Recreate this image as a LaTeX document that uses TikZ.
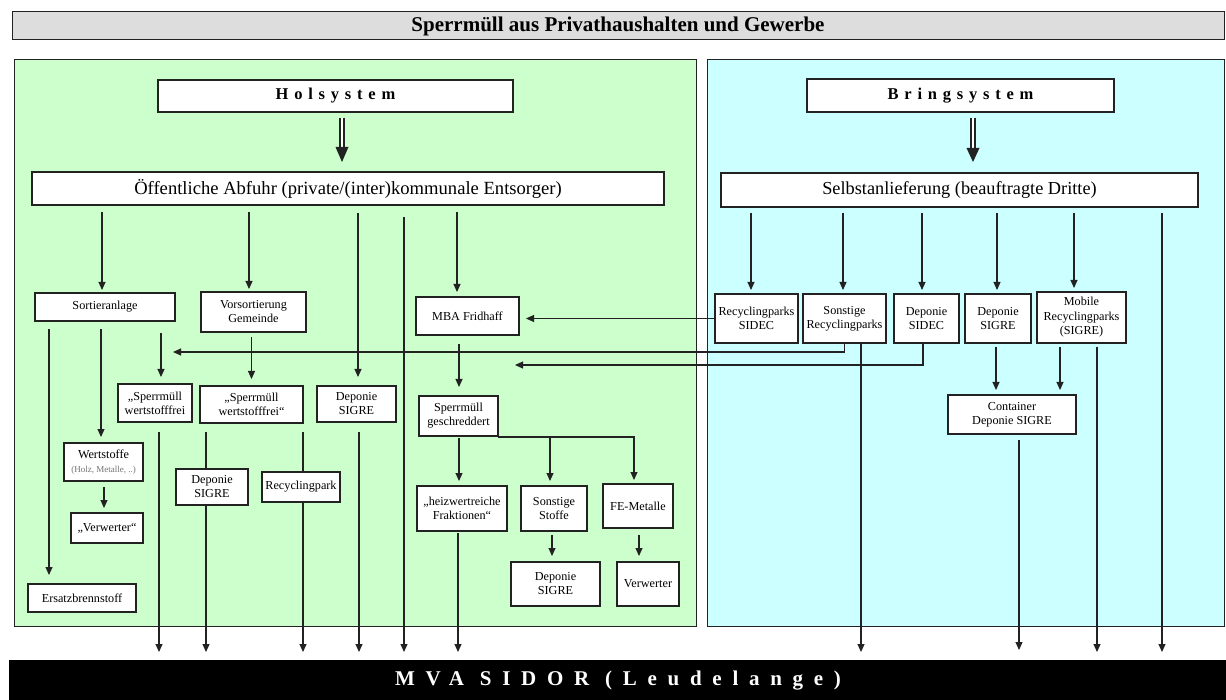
\documentclass[tikz,border=0pt]{standalone}
\usepackage{fontspec}
\setmainfont{Liberation Serif}
\newfontfamily\spacedfont[LetterSpace=35]{Liberation Serif}
\newfontfamily\mvafont[LetterSpace=51]{Liberation Serif}
\usetikzlibrary{arrows.meta,calc}
\definecolor{grn}{HTML}{CCFFCC}
\definecolor{cyn}{HTML}{CCFFFF}
\definecolor{ttl}{HTML}{DDDDDD}
\definecolor{bd}{HTML}{222222}
% #1 extra style, #2 name, #3 x1, #4 y1, #5 x2, #6 y2, #7 text
\newcommand\mybox[7][]{\node[box,#1,minimum width={#5pt-#3pt},minimum height={#6pt-#4pt}] (#2) at ({(#3+#5)/2},{(#4+#6)/2}) {#7};}
\begin{document}
\begin{tikzpicture}[x=1pt,y=-1pt,
  box/.style={draw=bd, line width=1.2pt, fill=white, inner sep=0pt, outer sep=0pt, align=center, font=\fontsize{12.2}{14}\selectfont},
  panel/.style={draw=bd, line width=1pt},
  arr/.style={draw=bd, line width=1.05pt, -{Triangle[length=8pt,width=7pt]}},
  ln/.style={draw=bd, line width=1.05pt},
  dbl/.style={draw=bd, line width=1.3pt, double distance=2.8pt},
  head/.style={fill=bd}]
\useasboundingbox (0,0) rectangle (1226,700);
% title and panels
\mybox[fill=ttl, panel, font=\bfseries\fontsize{21}{24}\selectfont]{title}{12}{12}{1224}{40}{Sperrmüll aus Privathaushalten und Gewerbe}
\mybox[fill=grn, panel]{holpanel}{14}{60}{696}{626}{}
\mybox[fill=cyn, panel]{bringpanel}{707}{60}{1224}{626}{}
\mybox[fill=black, draw=black, text=white, font=\mvafont\bfseries\fontsize{21}{24}\selectfont]{mva}{10}{661}{1226}{700}{MVA SIDOR (Leudelange)}
% Holsystem side
\mybox[font=\spacedfont\bfseries\fontsize{16.5}{20}\selectfont]{hol}{158}{80}{513}{112}{Holsystem}
\mybox[font=\fontsize{18.6}{22}\selectfont]{oeff}{32}{172}{664}{205}{Öffentliche Abfuhr (private/(inter)kommunale Entsorger)}
\mybox{sort}{35}{293}{175}{321}{Sortieranlage}
\mybox{vors}{201}{292}{306}{332}{Vorsortierung\\Gemeinde}
\mybox{mba}{416}{297}{519}{335}{MBA Fridhaff}
\mybox{sw1}{118}{384}{192}{422}{„Sperrmüll\\wertstofffrei}
\mybox{sw2}{200}{386}{303}{423}{„Sperrmüll\\wertstofffrei“}
\mybox{dep1}{317}{386}{396}{422}{Deponie\\SIGRE}
\mybox{wert}{64}{443}{143}{481}{Wertstoffe\\{\fontsize{9}{10}\selectfont\color{black!55}(Holz, Metalle, ..)}}
\mybox{verw1}{71}{513}{143}{543}{„Verwerter“}
\mybox{dep2}{176}{469}{248}{505}{Deponie\\SIGRE}
\mybox{reco}{262}{472}{340}{502}{Recyclingpark}
\mybox{gesch}{419}{396}{498}{436}{Sperrmüll\\geschreddert}
\mybox{heiz}{417}{486}{507}{531}{„heizwertreiche\\Fraktionen“}
\mybox{sonst}{521}{486}{587}{531}{Sonstige\\Stoffe}
\mybox{fe}{603}{484}{673}{528}{FE-Metalle}
\mybox{dep3}{511}{562}{600}{606}{Deponie\\SIGRE}
\mybox{verw2}{617}{562}{679}{606}{Verwerter}
\mybox{ersatz}{28}{584}{136}{612}{Ersatzbrennstoff}
% Bringsystem side
\mybox[font=\spacedfont\bfseries\fontsize{16.5}{20}\selectfont]{bring}{807}{79}{1114}{112}{Bringsystem}
\mybox[font=\fontsize{18.3}{22}\selectfont]{selbst}{721}{173}{1198}{207}{Selbstanlieferung (beauftragte Dritte)}
\mybox{rpsidec}{715}{294}{798}{343}{Recyclingparks\\SIDEC}
\mybox{srp}{803}{294}{886}{343}{Sonstige\\Recyclingparks}
\mybox{dsidec}{894}{294}{959}{343}{Deponie\\SIDEC}
\mybox{dsigre}{965}{294}{1031}{343}{Deponie\\SIGRE}
\mybox[font=\fontsize{12.2}{14.5}\selectfont]{mobile}{1037}{292}{1126}{343}{Mobile\\Recyclingparks\\(SIGRE)}
\mybox{cont}{948}{395}{1076}{434}{Container\\Deponie SIGRE}
\coordinate (t1) at (173,352);
\coordinate (t2) at (515,365);
% double arrows
\draw[dbl] ([xshift=6.5pt,yshift=-6pt]hol.south) -- ([xshift=-6pt,yshift=24pt]oeff.north);
\fill[head] ([xshift=-12.5pt,yshift=25pt]oeff.north) -- ([xshift=0.5pt,yshift=25pt]oeff.north) -- ([xshift=-6pt,yshift=10pt]oeff.north) -- cycle;
\draw[dbl] ([xshift=12.5pt,yshift=-6pt]bring.south) -- ([xshift=13.5pt,yshift=24pt]selbst.north);
\fill[head] ([xshift=7pt,yshift=25pt]selbst.north) -- ([xshift=20pt,yshift=25pt]selbst.north) -- ([xshift=13.5pt,yshift=11pt]selbst.north) -- cycle;
% Holsystem connectors
\draw[arr, shorten <=7pt, shorten >=3pt] ([xshift=-3pt]sort.north |- oeff.south) -- ([xshift=-3pt]sort.north);
\draw[arr, shorten <=7pt, shorten >=3pt] ([xshift=-4.5pt]vors.north |- oeff.south) -- ([xshift=-4.5pt]vors.north);
\draw[arr, shorten <=8pt, shorten >=9pt] ([xshift=1.5pt]dep1.north |- oeff.south) -- ([xshift=1.5pt]dep1.north);
\draw[arr, shorten <=12pt, shorten >=9pt] ([xshift=56pt]oeff.south) -- ([xshift=56pt]oeff.south |- mva.north);
\draw[arr, shorten <=7pt, shorten >=5pt] ([xshift=-10.5pt]mba.north |- oeff.south) -- ([xshift=-10.5pt]mba.north);
\draw[arr, shorten <=8pt, shorten >=9pt] ([xshift=-56pt]sort.south) -- ([xshift=-56pt]sort.south |- ersatz.north);
\draw[arr, shorten <=8pt, shorten >=6pt] ([xshift=-2.5pt]wert.north |- sort.south) -- ([xshift=-2.5pt]wert.north);
\draw[arr, shorten <=12pt, shorten >=7pt] ([xshift=6pt]sw1.north |- sort.south) -- ([xshift=6pt]sw1.north);
\draw[arr] (srp.south) |- (t1);
\draw[arr, shorten <=5pt, shorten >=7pt] (sw2.north |- vors.south) -- (sw2.north);
\draw[arr, shorten <=10pt, shorten >=9pt] ([xshift=4pt]sw1.south) -- ([xshift=4pt]sw1.south |- mva.north);
\draw[ln, shorten <=9pt] ([xshift=-6pt]dep2.north |- sw2.south) -- ([xshift=-6pt]dep2.north);
\draw[arr, shorten >=9pt] ([xshift=-6pt]dep2.south) -- ([xshift=-6pt]dep2.south |- mva.north);
\draw[ln, shorten <=9pt] ([xshift=2pt]reco.north |- sw2.south) -- ([xshift=2pt]reco.north);
\draw[arr, shorten >=9pt] ([xshift=2pt]reco.south) -- ([xshift=2pt]reco.south |- mva.north);
\draw[arr, shorten <=10pt, shorten >=9pt] ([xshift=2.5pt]dep1.south) -- ([xshift=2.5pt]dep1.south |- mva.north);
\draw[arr, shorten <=6pt, shorten >=5pt] ([xshift=-3pt]verw1.north |- wert.south) -- ([xshift=-3pt]verw1.north);
\draw[arr, shorten <=9pt, shorten >=9pt] ([xshift=0.5pt]gesch.north |- mba.south) -- ([xshift=0.5pt]gesch.north);
\draw[arr, shorten >=7pt] (rpsidec.west) -- (mba.east |- rpsidec.west);
\draw[arr] ([xshift=-3.5pt]dsidec.south) |- (t2);
\draw[arr, shorten <=2pt, shorten >=5pt] ([xshift=-3pt]heiz.north |- gesch.south) -- ([xshift=-3pt]heiz.north);
\draw[arr, shorten >=4pt] ([yshift=-1pt]gesch.south east) -| ([xshift=-4pt]fe.north);
\draw[arr, shorten >=5pt] ([xshift=-4pt,yshift=-1pt]sonst.north |- gesch.south) -- ([xshift=-4pt]sonst.north);
\draw[arr, shorten <=2pt, shorten >=9pt] ([xshift=-4pt]heiz.south) -- ([xshift=-4pt]heiz.south |- mva.north);
\draw[arr, shorten <=4pt, shorten >=6pt] ([xshift=-2pt]sonst.south) -- ([xshift=-2pt]sonst.south |- dep3.north);
\draw[arr, shorten <=7pt, shorten >=6pt] ([xshift=1pt]fe.south) -- ([xshift=1pt]fe.south |- verw2.north);
% Bringsystem connectors
\draw[arr, shorten <=6pt, shorten >=4pt] ([xshift=-5.5pt]rpsidec.north |- selbst.south) -- ([xshift=-5.5pt]rpsidec.north);
\draw[arr, shorten <=6pt, shorten >=4pt] ([xshift=-1.5pt]srp.north |- selbst.south) -- ([xshift=-1.5pt]srp.north);
\draw[arr, shorten <=6pt, shorten >=4pt] ([xshift=-4.5pt]dsidec.north |- selbst.south) -- ([xshift=-4.5pt]dsidec.north);
\draw[arr, shorten <=6pt, shorten >=4pt] ([xshift=-1pt]dsigre.north |- selbst.south) -- ([xshift=-1pt]dsigre.north);
\draw[arr, shorten <=6pt, shorten >=4pt] ([xshift=-7.5pt]mobile.north |- selbst.south) -- ([xshift=-7.5pt]mobile.north);
\draw[arr, shorten <=6pt, shorten >=9pt] ([xshift=202.5pt]selbst.south) -- ([xshift=202.5pt]selbst.south |- mva.north);
\draw[arr, shorten >=9pt] ([xshift=16.5pt]srp.south) -- ([xshift=16.5pt]srp.south |- mva.north);
\draw[arr, shorten <=4pt, shorten >=5pt] ([xshift=-2pt]dsigre.south) -- ([xshift=-2pt]dsigre.south |- cont.north);
\draw[arr, shorten <=4pt, shorten >=5pt] ([xshift=-21.5pt]mobile.south) -- ([xshift=-21.5pt]mobile.south |- cont.north);
\draw[arr, shorten <=4pt, shorten >=9pt] ([xshift=15.5pt]mobile.south) -- ([xshift=15.5pt]mobile.south |- mva.north);
\draw[arr, shorten <=6pt, shorten >=11pt] ([xshift=7pt]cont.south) -- ([xshift=7pt]cont.south |- mva.north);
\end{tikzpicture}
\end{document}
